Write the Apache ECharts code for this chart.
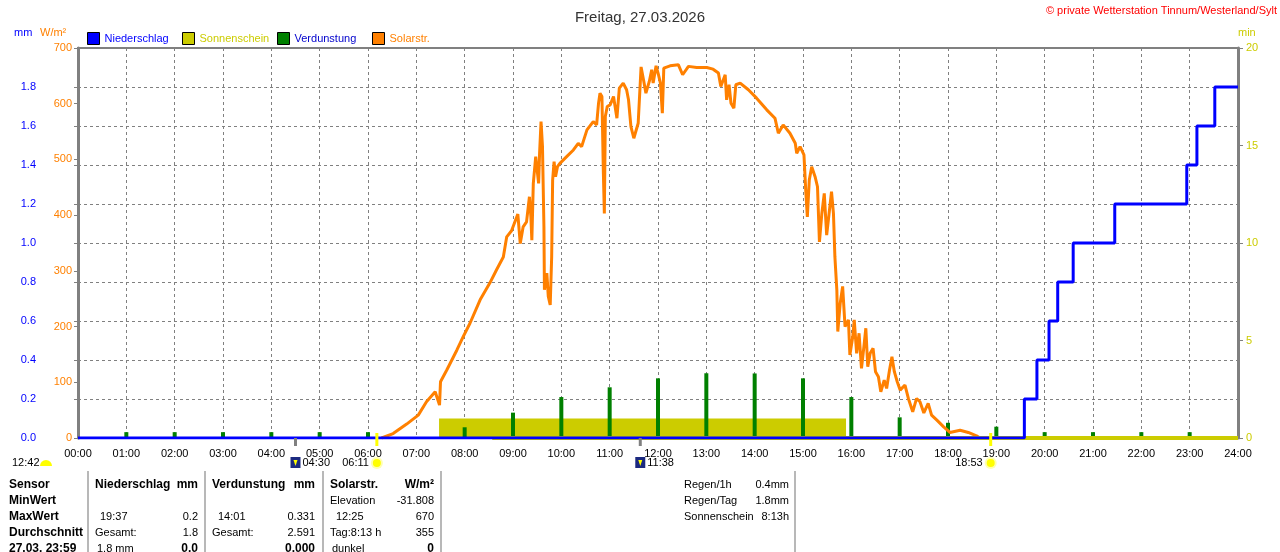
<!DOCTYPE html>
<html>
<head>
<meta charset="utf-8">
<script src="https://cdn.jsdelivr.net/npm/echarts@6/dist/echarts.min.js"></script>
<style>
  html, body { margin: 0; padding: 0; background: #fff; }
  #chart { width: 1280px; height: 552px; }
</style>
</head>
<body>
<div id="chart"></div>
<script>
// --- data (time in hours of the day) ---
var rainTimes  = [0, 19.58, 19.84, 20.09, 20.27, 20.59, 21.45, 22.94, 23.15, 23.52, 24];
var rainValues = [0, 0.2, 0.4, 0.6, 0.8, 1.0, 1.2, 1.4, 1.6, 1.8, 1.8];

var evapHours  = [1, 2, 3, 4, 5, 6, 8, 9, 10, 11, 12, 13, 14, 15, 16, 17, 18, 19, 20, 21, 22, 23];
var evapValues = [0.03, 0.03, 0.03, 0.03, 0.03, 0.03, 0.055, 0.13, 0.21, 0.26, 0.306, 0.332, 0.331,
                  0.306, 0.21, 0.106, 0.078, 0.058, 0.03, 0.03, 0.03, 0.03];

var sunStart = [7.47];
var sunEnd   = [15.89];
var sunMinutes = [1];
var sunBaseTimes = [8.57, 24];

var solarTimes = [6.28, 6.52, 6.80, 7.04, 7.21, 7.39, 7.43, 7.48, 7.50, 7.63, 7.84, 7.97, 8.11, 8.32, 8.52,
  8.66, 8.80, 8.87, 8.97, 9.04, 9.10, 9.15, 9.21, 9.28, 9.34, 9.37, 9.39, 9.42, 9.47, 9.53, 9.55, 9.58,
  9.61, 9.64, 9.65, 9.70, 9.73, 9.77, 9.80, 9.82, 9.85, 9.88, 9.92, 9.97, 10.11, 10.25, 10.35, 10.42,
  10.53, 10.66, 10.73, 10.77, 10.80, 10.84, 10.87, 10.89, 10.91, 10.95, 11.01, 11.08, 11.15, 11.20,
  11.28, 11.35, 11.39, 11.44, 11.50, 11.59, 11.65, 11.70, 11.75, 11.82, 11.87, 11.90, 11.96, 12.01,
  12.05, 12.09, 12.12, 12.25, 12.42, 12.51, 12.63, 12.80, 13.01, 13.14, 13.25, 13.30, 13.39, 13.42,
  13.47, 13.51, 13.57, 13.61, 13.70, 13.87, 14.04, 14.25, 14.42, 14.49, 14.59, 14.73, 14.84, 14.87,
  14.94, 15.02, 15.06, 15.09, 15.13, 15.18, 15.25, 15.30, 15.34, 15.39, 15.44, 15.49, 15.53, 15.59,
  15.63, 15.66, 15.70, 15.72, 15.77, 15.82, 15.87, 15.94, 15.97, 16.03, 16.06, 16.11, 16.16, 16.21,
  16.26, 16.30, 16.34, 16.39, 16.45, 16.50, 16.56, 16.61, 16.68, 16.73, 16.79, 16.84, 16.89, 16.95,
  17.01, 17.11, 17.18, 17.27, 17.35, 17.42, 17.50, 17.59, 17.66, 17.77, 17.91, 18.04, 18.25, 18.42,
  18.59, 18.66];
var solarValues = [0, 8, 25, 41, 65, 83, 80, 59, 101, 122, 158, 182, 206, 248, 278,
  302, 325, 361, 372, 388, 402, 349, 379, 388, 433, 397, 355, 457, 505, 457, 511, 568,
  523, 379, 266, 296, 254, 239, 325, 463, 496, 469, 487, 493, 505, 517, 529, 523,
  553, 568, 562, 601, 619, 613, 475, 403, 577, 595, 598, 613, 574, 628,
  637, 625, 607, 559, 538, 565, 666, 643, 619, 640, 661, 637, 668, 652,
  637, 583, 664, 668, 670, 652, 667, 665, 665, 662, 655, 631, 652, 607,
  634, 601, 592, 634, 637, 625, 610, 589, 574, 547, 562, 547, 529, 511,
  523, 508, 439, 397, 463, 487, 469, 451, 352, 403, 439, 364, 361, 442,
  403, 325, 266, 191, 242, 272, 200, 212, 149, 182, 212, 152, 188, 125,
  164, 197, 128, 152, 161, 119, 110, 83, 104, 89, 122, 146, 119, 101,
  86, 95, 71, 47, 71, 65, 45, 62, 41, 32, 20, 10, 14, 10,
  4, 0];

var legendNames  = ['Niederschlag', 'Sonnenschein', 'Verdunstung', 'Solarstr.'];
var legendColors = ['#0000ff', '#cccc00', '#0000cc', '#ff8000'];

var markerTimes  = [4.5, 6.1833, 11.6333, 18.8833];
var markerLabels = ['04:30', '06:11', '11:38', '18:53'];
var markerKinds  = ['moon', 'sun', 'moon', 'sun'];

var tableLeft = [['Sensor', 'MinWert', 'MaxWert', 'Durchschnitt', '27.03. 23:59']];
var rainCol   = [['Niederschlag', 'mm'], ['', ''], ['19:37', '0.2'], ['Gesamt:', '1.8'], ['1.8 mm', '0.0']];
var evapCol   = [['Verdunstung', 'mm'], ['', ''], ['14:01', '0.331'], ['Gesamt:', '2.591'], ['', '0.000']];
var solarCol  = [['Solarstr.', 'W/m²'], ['Elevation', '-31.808'], ['12:25', '670'], ['Tag:8:13 h', '355'], ['dunkel', '0']];
var summary   = [['Regen/1h', '0.4mm'], ['Regen/Tag', '1.8mm'], ['Sonnenschein', '8:13h']];

var FONT = 'Liberation Sans, Arial, sans-serif';

function zip(a, b) {
  var out = [];
  for (var i = 0; i < a.length; i++) out.push([a[i], b[i]]);
  return out;
}

var sunData = [];
for (var i = 0; i < sunStart.length; i++) {
  sunData.push([sunStart[i], 0], [sunStart[i], sunMinutes[i]], [sunEnd[i], sunMinutes[i]], [sunEnd[i], 0]);
}

// one legend box per entry so each one sits where the original puts it
var legends = legendNames.map(function (name, k) {
  return {
    left: 87 + k * 95,
    top: 32,
    padding: 0,
    icon: 'rect',
    itemWidth: 12,
    itemHeight: 12,
    itemStyle: { borderColor: '#000', borderWidth: 1 },
    textStyle: { fontSize: 11, fontFamily: FONT, color: legendColors[k] },
    data: [name]
  };
});

var chart = echarts.init(document.getElementById('chart'));

var dash = { color: '#808080', type: [3, 3], width: 1 };

chart.setOption({
  animation: false,
  title: {
    text: 'Freitag, 27.03.2026',
    left: 'center',
    top: 5,
    textStyle: { fontSize: 15, fontWeight: 'normal', color: '#333', fontFamily: FONT }
  },
  legend: legends,
  grid: {
    left: 78, right: 42, top: 48, bottom: 114,
    show: true, borderColor: '#808080', borderWidth: 2
  },
  xAxis: {
    type: 'value',
    min: 0, max: 24, interval: 1,
    axisLine: { show: false },
    axisTick: { show: false },
    axisLabel: {
      color: '#000', fontSize: 11, fontFamily: FONT, margin: 10,
      formatter: function (v) { return (v < 10 ? '0' : '') + v + ':00'; }
    },
    splitLine: { show: true, lineStyle: dash }
  },
  yAxis: [
    {
      type: 'value', min: 0, max: 2, interval: 0.2, position: 'left', offset: 37,
      axisLine: { show: true, lineStyle: { color: '#808080', width: 1.5 } },
      axisTick: { show: true, length: 4, lineStyle: { color: '#808080' } },
      axisLabel: {
        color: '#0000ff', fontSize: 11, fontFamily: FONT, margin: 5,
        formatter: function (v) { return v >= 2 ? '' : v.toFixed(1); }
      },
      splitLine: { show: true, lineStyle: dash }
    },
    {
      type: 'value', min: 0, max: 700, interval: 100, position: 'left', offset: 0,
      axisLine: { show: true, lineStyle: { color: '#808080', width: 3 } },
      axisTick: { show: true, length: 4, lineStyle: { color: '#808080' } },
      axisLabel: { color: '#ff8000', fontSize: 11, fontFamily: FONT, margin: 6 },
      splitLine: { show: false }
    },
    {
      type: 'value', min: 0, max: 20, interval: 5, position: 'right',
      axisLine: { show: true, lineStyle: { color: '#808080', width: 3 } },
      axisTick: { show: true, length: 5, lineStyle: { color: '#808080' } },
      axisLabel: { color: '#cccc00', fontSize: 11, fontFamily: FONT, margin: 8 },
      splitLine: { show: false }
    }
  ],
  series: [
    {
      name: 'Sonnenschein', type: 'line', yAxisIndex: 2, data: sunData,
      symbol: 'none', z: 1,
      lineStyle: { width: 0, color: '#cccc00' },
      itemStyle: { color: '#cccc00' },
      areaStyle: { color: '#cccc00', opacity: 1 }
    },
    {
      name: 'Verdunstung', type: 'bar', yAxisIndex: 0, data: zip(evapHours, evapValues),
      barWidth: 4, z: 2,
      itemStyle: { color: '#008000' }
    },
    {
      name: 'Solarstr.', type: 'line', yAxisIndex: 1, data: zip(solarTimes, solarValues),
      symbol: 'none', z: 3,
      lineStyle: { width: 3, color: '#ff8000' },
      itemStyle: { color: '#ff8000' }
    },
    {
      name: 'sunbase', type: 'line', yAxisIndex: 2, data: zip(sunBaseTimes, [0, 0]),
      symbol: 'none', z: 4, silent: true,
      lineStyle: { width: 4, color: '#cccc00' }
    },
    {
      name: 'Niederschlag', type: 'line', yAxisIndex: 0, data: zip(rainTimes, rainValues),
      step: 'end', symbol: 'none', z: 5,
      lineStyle: { width: 3, color: '#0000ff' },
      itemStyle: { color: '#0000ff' }
    }
  ]
});

// --- annotations: units, copyright, sun/moon markers, table ---
var g = [];
function txt(x, y, s, color, opts) {
  opts = opts || {};
  g.push({
    type: 'text', x: x, y: y, z: 50,
    style: {
      text: s, fill: color || '#000',
      font: (opts.bold ? 'bold ' : '') + (opts.size || 11) + 'px ' + FONT,
      textAlign: opts.align || 'left', textVerticalAlign: 'middle'
    }
  });
}

txt(14, 33, 'mm', '#0000ff');
txt(40, 33, 'W/m²', '#ff8000');
txt(1238, 33, 'min', '#cccc00');
txt(1277, 11, '© private Wetterstation Tinnum/Westerland/Sylt', '#ff0000', { align: 'right' });

var baseY = chart.convertToPixel({ yAxisIndex: 0 }, 0);
for (var m = 0; m < markerTimes.length; m++) {
  var px = chart.convertToPixel({ xAxisIndex: 0 }, markerTimes[m]);
  var isSun = markerKinds[m] === 'sun';
  g.push({
    type: 'line', z: 40,
    shape: { x1: px, y1: isSun ? baseY - 5 : baseY, x2: px, y2: baseY + 8 },
    style: { stroke: isSun ? '#ffff00' : '#808080', lineWidth: 3 }
  });
  if (isSun) {
    g.push({ type: 'circle', z: 41, shape: { cx: px, cy: 463, r: 6 }, style: { fill: '#ffffb0' } });
    g.push({ type: 'circle', z: 42, shape: { cx: px, cy: 463, r: 4 }, style: { fill: '#ffff00' } });
    txt(px - 8, 463, markerLabels[m], '#000', { align: 'right' });
  } else {
    g.push({ type: 'rect', z: 41, shape: { x: px - 5, y: 457, width: 10, height: 11 }, style: { fill: '#1c2a80' } });
    g.push({ type: 'polygon', z: 42, shape: { points: [[px - 2, 460], [px + 2, 460], [px, 466]] }, style: { fill: '#ffff00' } });
    txt(px + 7, 463, markerLabels[m], '#000');
  }
}
txt(12, 463, '12:42', '#000');
g.push({ type: 'sector', z: 41, shape: { cx: 46, cy: 466, r: 6, startAngle: Math.PI, endAngle: Math.PI * 2 }, style: { fill: '#ffff00' } });

[88, 205, 323, 441, 795].forEach(function (x) {
  g.push({ type: 'line', z: 40, shape: { x1: x, y1: 471, x2: x, y2: 552 }, style: { stroke: '#a0a0a0', lineWidth: 1.5 } });
});

var rowY = [485, 501, 517, 533, 549];
tableLeft[0].forEach(function (s, r) { txt(9, rowY[r], s, '#000', { bold: true, size: 12 }); });
function column(rows, xl, xr, indent) {
  rows.forEach(function (row, r) {
    var head = r === 0, last = r === rows.length - 1;
    var xx = xl + ((r === 2) ? indent : 0) + ((r === 4 && row[0]) ? 2 : 0);
    if (row[0]) txt(xx, rowY[r], row[0], '#000', head ? { bold: true, size: 12 } : {});
    if (row[1]) txt(xr, rowY[r], row[1], '#000', (head || last) ? { bold: true, size: 12, align: 'right' } : { align: 'right' });
  });
}
column(rainCol, 95, 198, 5);
column(evapCol, 212, 315, 6);
column(solarCol, 330, 434, 6);
summary.forEach(function (row, r) {
  txt(684, rowY[r], row[0], '#000');
  txt(789, rowY[r], row[1], '#000', { align: 'right' });
});

chart.setOption({ graphic: g });
</script>
</body>
</html>
